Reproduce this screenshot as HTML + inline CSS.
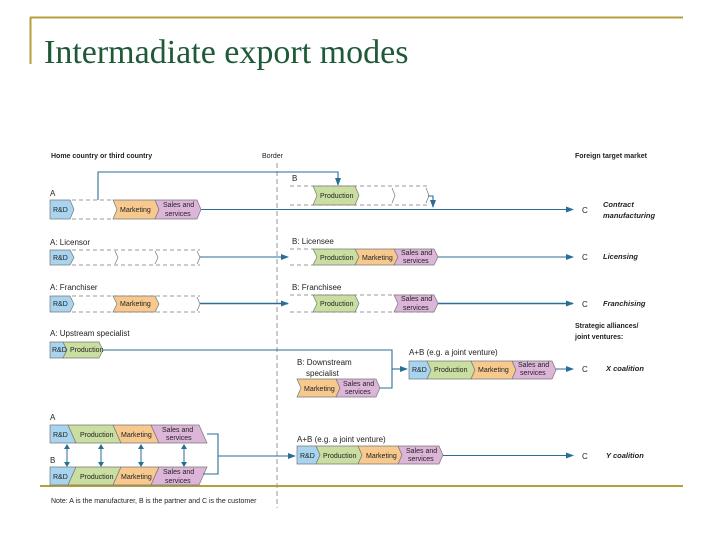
<!DOCTYPE html>
<html><head><meta charset="utf-8"><style>
html,body{margin:0;padding:0;background:#fff;width:720px;height:540px;overflow:hidden}
svg{display:block}
.t{font-family:"Liberation Sans",sans-serif;font-size:7px;fill:#222}
.b{font-weight:bold}
.l{font-family:"Liberation Sans",sans-serif;font-size:8px;fill:#222}
.i{font-family:"Liberation Sans",sans-serif;font-size:7.5px;font-weight:bold;font-style:italic;fill:#222}
</style></head><body>
<svg width="720" height="540" viewBox="0 0 720 540" xmlns="http://www.w3.org/2000/svg">
<defs><marker id="a" markerWidth="8" markerHeight="6" refX="7" refY="3" orient="auto" markerUnits="userSpaceOnUse"><path d="M0,0 L8,3 L0,6 Z" fill="#2a6e95"/></marker></defs>
<!-- frame -->
<line x1="30" y1="17.5" x2="683" y2="17.5" stroke="#b5a03e" stroke-width="2"/>
<line x1="30.5" y1="17" x2="30.5" y2="64" stroke="#b5a03e" stroke-width="2"/>
<line x1="40" y1="486" x2="683" y2="486" stroke="#b5a03e" stroke-width="2"/>
<text x="44" y="63" font-family="Liberation Serif,serif" font-size="34" fill="#1e5a37">Intermadiate export modes</text>
<!-- headers -->
<text x="51" y="158" class="t b">Home country or third country</text>
<text x="262" y="158" class="t">Border</text>
<text x="575" y="158" class="t b">Foreign target market</text>
<line x1="277" y1="163" x2="277" y2="508" stroke="#999" stroke-dasharray="5,3"/>
<g stroke="#777" stroke-width="0.7">
<!-- Row 1 A -->
<path d="M72,200 H113 M72,219 H113" stroke-dasharray="4,3" fill="none"/>
<path d="M50,200 H70 L74,209.5 L70,219 H50 Z" fill="#a9d4ef"/>
<path d="M113,200 H155 L159,209.5 L155,219 H113 L117,209.5 Z" fill="#f7c98e"/>
<path d="M155,200 H197 L201,209.5 L197,219 H155 L159,209.5 Z" fill="#dcb5d9"/>
<!-- Row1 B -->
<path d="M290,186 H428 M290,205 H428" stroke-dasharray="4,3" fill="none"/>
<path d="M313,186 H355 L359,195.5 L355,205 H313 L317,195.5 Z" fill="#c9dea0"/>
<path d="M392,188 L395,195.5 L392,203 M426,188 L429,195.5 L426,203" fill="none"/>
<!-- Row2 -->
<path d="M72,250 H200 M72,265 H200" stroke-dasharray="4,3" fill="none"/>
<path d="M50,250 H70 L74,257.5 L70,265 H50 Z" fill="#a9d4ef"/>
<path d="M115,251 L118,257.5 L115,264 M155,251 L158,257.5 L155,264 M197,251 L200,257.5 L197,264" fill="none"/>
<path d="M290,249 H313 M290,265 H313" stroke-dasharray="4,3" fill="none"/>
<path d="M313,249 H355 L359,257 L355,265 H313 L317,257 Z" fill="#c9dea0"/>
<path d="M355,249 H394 L398,257 L394,265 H355 L359,257 Z" fill="#f7c98e"/>
<path d="M394,249 H434 L438,257 L434,265 H394 L398,257 Z" fill="#dcb5d9"/>
<!-- Row3 -->
<path d="M72,296 H200 M72,312 H200" stroke-dasharray="4,3" fill="none"/>
<path d="M50,296 H70 L74,304 L70,312 H50 Z" fill="#a9d4ef"/>
<path d="M113,296 H155 L159,304 L155,312 H113 L117,304 Z" fill="#f7c98e"/>
<path d="M197,297 L200,304 L197,311" fill="none"/>
<path d="M290,295 H434 M290,312 H434" stroke-dasharray="4,3" fill="none"/>
<path d="M313,295 H355 L359,303.5 L355,312 H313 L317,303.5 Z" fill="#c9dea0"/>
<path d="M394,295 H434 L438,303.5 L434,312 H394 L398,303.5 Z" fill="#dcb5d9"/>
<!-- Upstream -->
<path d="M50,342 H63 L67,350 L63,358 H50 Z" fill="#a9d4ef"/>
<path d="M63,342 H99 L103,350 L99,358 H63 L67,350 Z" fill="#c9dea0"/>
<!-- Downstream -->
<path d="M297,379 H336 L340,388 L336,397 H297 L301,388 Z" fill="#f7c98e"/>
<path d="M336,379 H376 L380,388 L376,397 H336 L340,388 Z" fill="#dcb5d9"/>
<!-- X box -->
<path d="M409,361 H427 L431,370 L427,379 H409 Z" fill="#a9d4ef"/>
<path d="M427,361 H471 L475,370 L471,379 H427 L431,370 Z" fill="#c9dea0"/>
<path d="M471,361 H512 L516,370 L512,379 H471 L475,370 Z" fill="#f7c98e"/>
<path d="M512,361 H552 L556,370 L552,379 H512 L516,370 Z" fill="#dcb5d9"/>
<!-- Y A -->
<path d="M50,425 H68 L76,443 H50 Z" fill="#a9d4ef"/>
<path d="M68,425 H113 L121,443 H76 Z" fill="#c9dea0"/>
<path d="M113,425 H151 L159,443 H121 Z" fill="#f7c98e"/>
<path d="M151,425 H199 L207,443 H159 Z" fill="#dcb5d9"/>
<!-- Y B -->
<path d="M50,467 H76 L68,485 H50 Z" fill="#a9d4ef"/>
<path d="M76,467 H121 L113,485 H68 Z" fill="#c9dea0"/>
<path d="M121,467 H159 L151,485 H113 Z" fill="#f7c98e"/>
<path d="M159,467 H207 L199,485 H151 Z" fill="#dcb5d9"/>
<!-- Y AB -->
<path d="M297,446 H316 L320,455 L316,464 H297 Z" fill="#a9d4ef"/>
<path d="M316,446 H358 L362,455 L358,464 H316 L320,455 Z" fill="#c9dea0"/>
<path d="M358,446 H398 L402,455 L398,464 H358 L362,455 Z" fill="#f7c98e"/>
<path d="M398,446 H439 L443,455 L439,464 H398 L402,455 Z" fill="#dcb5d9"/>
</g>
<!-- connectors -->
<g stroke="#2a6e95" stroke-width="1.1" fill="none">
<path d="M98,200 V172 H338 V185" marker-end="url(#a)"/>
<path d="M428,196 H433 V207" marker-end="url(#a)"/>
<path d="M201,209.5 H573" marker-end="url(#a)"/>
<path d="M200,257 H288" marker-end="url(#a)"/>
<path d="M438,257 H573" marker-end="url(#a)"/>
<path d="M200,303.5 H288" marker-end="url(#a)" stroke-width="1.6"/>
<path d="M438,303.5 H573" marker-end="url(#a)" stroke-width="1.6"/>
<path d="M103,350 H392 V388 H380"/>
<path d="M392,369 H407" marker-end="url(#a)"/>
<path d="M556,369 H573" marker-end="url(#a)"/>
<path d="M207,434 H218 V474 H203"/>
<path d="M218,456 H295" marker-end="url(#a)"/>
<path d="M443,455.5 H573" marker-end="url(#a)"/>
</g>
<g stroke="#2a6e95" stroke-width="1" fill="#2a6e95">
<line x1="67" y1="446" x2="67" y2="465"/><line x1="101" y1="446" x2="101" y2="465"/><line x1="141" y1="446" x2="141" y2="465"/><line x1="184" y1="446" x2="184" y2="465"/>
<path d="M64,449 L67,444 L70,449Z M64,462 L67,467 L70,462Z M98,449 L101,444 L104,449Z M98,462 L101,467 L104,462Z M138,449 L141,444 L144,449Z M138,462 L141,467 L144,462Z M181,449 L184,444 L187,449Z M181,462 L184,467 L187,462Z" stroke="none"/>
</g>
<!-- labels -->
<text x="50" y="196" class="l">A</text>
<text x="292" y="181" class="l">B</text>
<text x="50" y="245" class="l">A: Licensor</text>
<text x="292" y="244" class="l">B: Licensee</text>
<text x="50" y="290" class="l">A: Franchiser</text>
<text x="292" y="290" class="l">B: Franchisee</text>
<text x="50" y="336" class="l">A: Upstream specialist</text>
<text x="297" y="365" class="l">B: Downstream</text>
<text x="306" y="376" class="l">specialist</text>
<text x="409" y="355" class="l">A+B (e.g. a joint venture)</text>
<text x="50" y="420" class="l">A</text>
<text x="50" y="463" class="l">B</text>
<text x="297" y="442" class="l">A+B (e.g. a joint venture)</text>
<text x="575" y="328" class="t b">Strategic alliances/</text>
<text x="575" y="339" class="t b">joint ventures:</text>
<g class="l"><text x="582" y="213" class="l">C</text><text x="582" y="260" class="l">C</text><text x="582" y="307" class="l">C</text><text x="582" y="372" class="l">C</text><text x="582" y="459" class="l">C</text></g>
<text x="603" y="207" class="i">Contract</text>
<text x="603" y="218" class="i">manufacturing</text>
<text x="603" y="259" class="i">Licensing</text>
<text x="603" y="306" class="i">Franchising</text>
<text x="606" y="371" class="i">X coalition</text>
<text x="606" y="458" class="i">Y coalition</text>
<text x="51" y="503" class="t">Note: A is the manufacturer, B is the partner and C is the customer</text>
<!-- box text -->
<g class="t" font-size="6.5">
<text x="53" y="212" class="t">R&amp;D</text><text x="120" y="212" class="t">Marketing</text>
<text x="163" y="207" class="t">Sales and</text><text x="165" y="216" class="t">services</text>
<text x="320" y="198" class="t">Production</text>
<text x="53" y="260" class="t">R&amp;D</text>
<text x="320" y="260" class="t">Production</text><text x="362" y="260" class="t">Marketing</text>
<text x="401" y="255" class="t">Sales and</text><text x="403" y="263" class="t">services</text>
<text x="53" y="306" class="t">R&amp;D</text><text x="120" y="306" class="t">Marketing</text>
<text x="320" y="306" class="t">Production</text>
<text x="401" y="301" class="t">Sales and</text><text x="403" y="310" class="t">services</text>
<text x="52" y="352" class="t">R&amp;D</text><text x="70" y="352" class="t">Production</text>
<text x="304" y="391" class="t">Marketing</text>
<text x="343" y="386" class="t">Sales and</text><text x="345" y="394" class="t">services</text>
<text x="412" y="372" class="t">R&amp;D</text><text x="434" y="372" class="t">Production</text><text x="478" y="372" class="t">Marketing</text>
<text x="518" y="367" class="t">Sales and</text><text x="520" y="375" class="t">services</text>
<text x="53" y="437" class="t">R&amp;D</text><text x="80" y="437" class="t">Production</text><text x="121" y="437" class="t">Marketing</text>
<text x="162" y="432" class="t">Sales and</text><text x="166" y="440" class="t">services</text>
<text x="53" y="479" class="t">R&amp;D</text><text x="80" y="479" class="t">Production</text><text x="121" y="479" class="t">Marketing</text>
<text x="163" y="474" class="t">Sales and</text><text x="165" y="483" class="t">services</text>
<text x="300" y="458" class="t">R&amp;D</text><text x="323" y="458" class="t">Production</text><text x="366" y="458" class="t">Marketing</text>
<text x="406" y="453" class="t">Sales and</text><text x="408" y="461" class="t">services</text>
</g>
</svg>
</body></html>
